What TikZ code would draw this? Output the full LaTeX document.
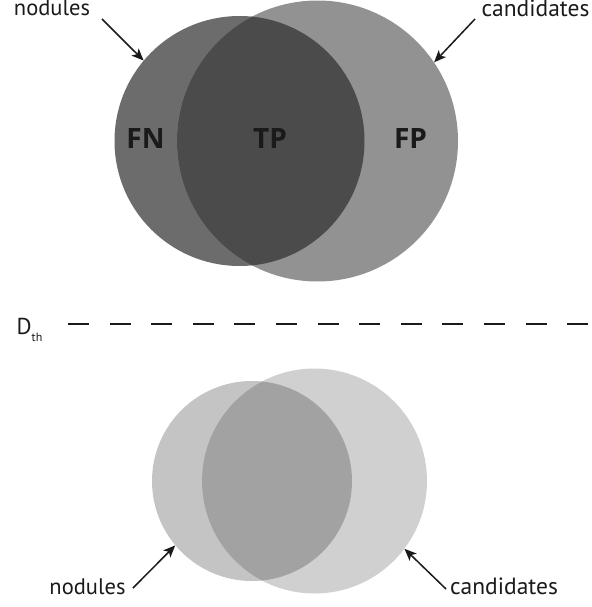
\documentclass[tikz,border=0pt]{standalone}
\usepackage{fontspec}
\setmainfont{PT Sans}
\newfontfamily\boldlab{Open Sans}
\usetikzlibrary{arrows.meta}
\definecolor{nodA}{HTML}{6C6C6C}
\definecolor{candA}{HTML}{929292}
\definecolor{ovA}{HTML}{4B4B4B}
\definecolor{nodB}{HTML}{C4C4C4}
\definecolor{candB}{HTML}{D0D0D0}
\definecolor{ovB}{HTML}{A2A2A2}
\definecolor{ink}{HTML}{1A1A1A}
\begin{document}
\begin{tikzpicture}[x=1pt,y=-1pt,
  disc/.style={circle,inner sep=0pt,draw=none},
  lab/.style={anchor=base,inner sep=0pt,font=\fontsize{22.5}{24}\selectfont,text=ink},
  setlab/.style={anchor=base,inner sep=0pt,font=\boldlab\bfseries\fontsize{28}{30}\selectfont,text=ink},
  pointer/.style={line width=1.5pt,draw=ink,-{Stealth[length=12pt,width=10pt,inset=3pt]}},
  thresh/.style={line width=2pt,draw=ink,dash pattern=on 21pt off 20.6pt}]
\useasboundingbox (0,0) rectangle (591,607);
% top Venn
\node[disc,fill=nodA,minimum size=250pt] (nodT) at (239.5,141) {};
\node[disc,fill=candA,minimum size=281pt] (candT) at (317.5,141) {};
\begin{scope}
  \clip (239.5,141) circle (125pt);
  \fill[ovA] (317.5,141) circle (140.5pt);
\end{scope}
\node[setlab] (fn) at (145.5,148) {FN};
\node[setlab] (tp) at (270,148) {TP};
\node[setlab] (fp) at (410.5,148) {FP};
\node[lab] (nlT) at (52,16) {nodules};
\node[lab,font=\fontsize{23.5}{24}\selectfont] (clT) at (535.5,17) {candidates};
\coordinate (nsT) at (102,19);
\coordinate (csT) at (475,19);
\draw[pointer] (nsT) -- (nodT.140);
\draw[pointer] (csT) -- (candT.34.5);
% threshold
\node[lab,font=\fontsize{23}{24}\selectfont] (dth) at (29.5,334) {D\raisebox{-7.5pt}{\fontsize{12}{13}\selectfont th}};
\coordinate (dl) at (68,324);
\coordinate (dr) at (591,324);
\draw[thresh] (dl) -- (dr);
% bottom Venn
\node[disc,fill=nodB,minimum size=200pt] (nodB) at (252,481) {};
\node[disc,fill=candB,minimum size=225pt] (candB) at (314.5,481) {};
\begin{scope}
  \clip (252,481) circle (100pt);
  \fill[ovB] (314.5,481) circle (112.5pt);
\end{scope}
\node[lab] (nlB) at (87.5,594) {nodules};
\node[lab,font=\fontsize{23.5}{24}\selectfont] (clB) at (504,594) {candidates};
\coordinate (nsB) at (133,588);
\coordinate (csB) at (446,589);
\draw[pointer] (nsB) -- (nodB.220.6);
\draw[pointer] (csB) -- (candB.323.6);
\end{tikzpicture}
\end{document}
